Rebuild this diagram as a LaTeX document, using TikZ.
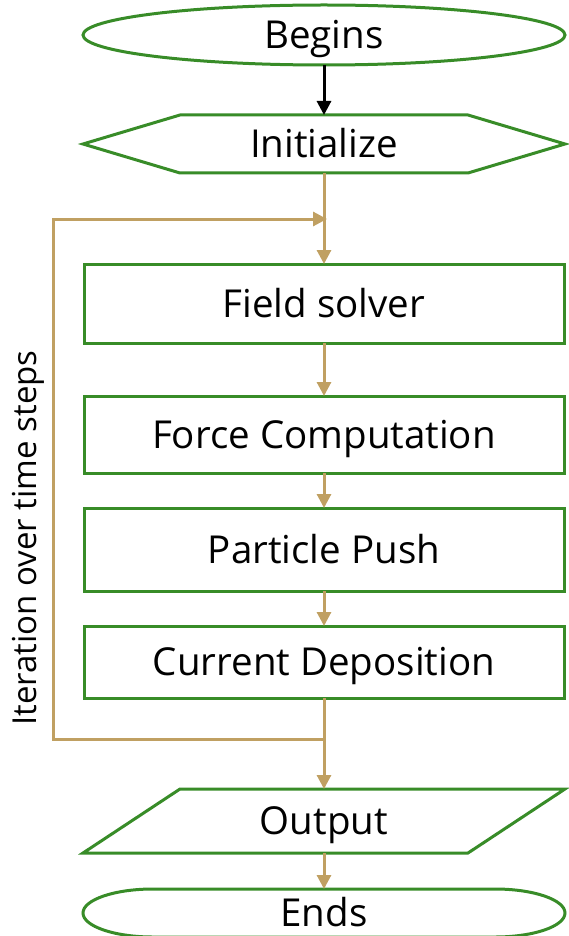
\documentclass[tikz,border=0pt]{standalone}
\usepackage{fontspec}
\setmainfont{Open Sans}
\usetikzlibrary{arrows.meta,shapes.geometric,calc}
\definecolor{boxgreen}{RGB}{56,140,40}
\definecolor{flowtan}{RGB}{192,160,98}
\begin{document}
\begin{tikzpicture}[x=1pt,y=-1pt,
  every node/.style={font=\fontsize{38.5}{44}\selectfont, inner sep=0pt, outer sep=0pt,
    text height=30pt, text depth=2.5pt},
  stepbox/.style={draw=boxgreen, line width=3pt, rectangle, minimum width=480pt},
  frame/.style={draw=boxgreen, line width=3pt, line join=miter},
  tip/.style={-{Triangle[length=14pt,width=14pt]}},
  flowline/.style={draw=flowtan, line width=3pt},
  startline/.style={draw=black, line width=3pt}]
\useasboundingbox (0,0) rectangle (569,936);
\clip (0,0) rectangle (569,936);

% terminals, start and end
\node[ellipse, frame, minimum width=482pt, minimum height=60pt] (begins) at (324,35) {Begins};
\node[rectangle, minimum width=482pt, minimum height=48pt] (ends) at (324,913) {Ends};
\draw[frame] ($(ends.north west)+(70,0)$) -- ($(ends.north east)+(-70,0)$)
  arc[start angle=90, end angle=-90, x radius=70pt, y radius=24pt]
  -- ($(ends.south west)+(70,0)$)
  arc[start angle=270, end angle=90, x radius=70pt, y radius=24pt] -- cycle;

% preparation (hexagon)
\node[rectangle, minimum width=482pt, minimum height=58pt] (init) at (324,144) {Initialize};
\draw[frame] (init.west) -- ($(init.north west)+(97,0)$) -- ($(init.north east)+(-97,0)$)
  -- (init.east) -- ($(init.south east)+(-97,0)$) -- ($(init.south west)+(97,0)$) -- cycle;

% loop body
\node[stepbox, minimum height=79pt] (field) at (324,303.5) {Field solver};
\node[stepbox, minimum height=77pt] (force) at (324,434.5) {Force Computation};
\node[stepbox, minimum height=83pt] (push) at (324,549.5) {Particle Push};
\node[stepbox, minimum height=72pt] (current) at (324,662) {Current Deposition};

% output (parallelogram)
\node[rectangle, minimum width=482pt, minimum height=64pt] (out) at (324,821) {Output};
\draw[frame] (out.south west) -- ($(out.north west)+(97,0)$) -- (out.north east)
  -- ($(out.south east)+(-97,0)$) -- cycle;

% loop label
\node[rotate=90, font=\fontsize{33}{38}\selectfont, text height=26pt, text depth=2.4pt]
  (lbl) at (25,538) {Iteration over time steps};

% connectors
\coordinate (split) at (324,739);
\coordinate (loopx) at (53,0);
\coordinate (join) at (327,219);

\draw[startline, tip] (begins.south) -- (init.north);
\draw[flowline, tip] (init.south) -- (field.north);
\draw[flowline, tip] (field.south) -- (force.north);
\draw[flowline, tip] (force.south) -- (push.north);
\draw[flowline, tip] (push.south) -- (current.north);
\draw[flowline, tip] (current.south) -- (split) -- (out.north);
\draw[flowline, tip] (split) -- (split -| loopx) |- (join);
\draw[flowline, tip] (out.south) -- (ends.north);
\end{tikzpicture}
\end{document}
